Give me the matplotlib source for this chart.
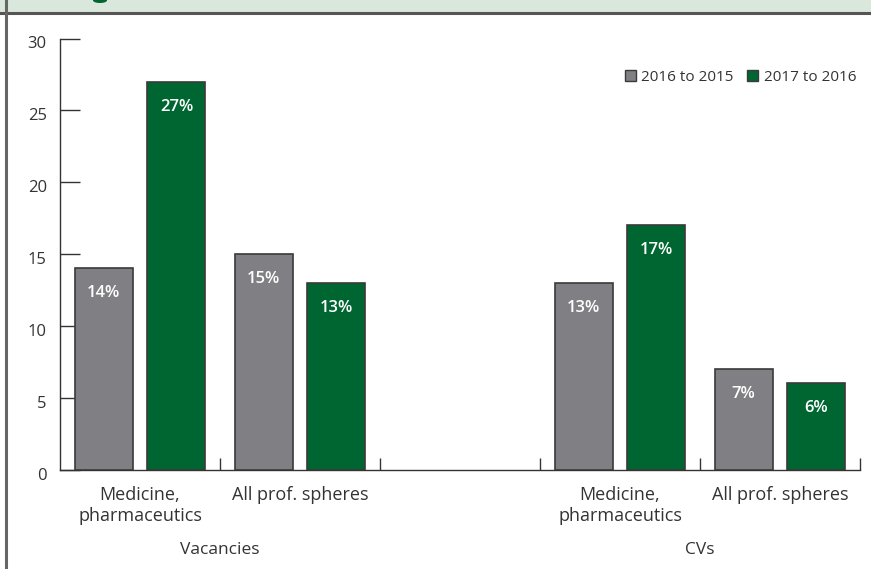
import matplotlib
matplotlib.use("Agg")
import matplotlib.pyplot as plt
import matplotlib.transforms as mtransforms
from matplotlib.patches import Rectangle, Ellipse
from matplotlib.lines import Line2D

plt.rcParams['font.family'] = ['Open Sans', 'DejaVu Sans']

# ---- data ----
groups = ["Vacancies", "CVs"]
categories = ["Medicine,\npharmaceutics", "All prof. spheres", "", "Medicine,\npharmaceutics", "All prof. spheres"]
series_names = ["2016 to 2015", "2017 to 2016"]
values_2016_2015 = [14, 15, None, 13, 7]
values_2017_2016 = [27, 13, None, 17, 6]
yticks = [0, 5, 10, 15, 20, 25, 30]

GRAY = "#808084"
GREEN = "#006631"
EDGE = "#3a3a3a"
TXT = "#333333"

W, H = 871, 569
fig = plt.figure(figsize=(W / 100, H / 100), dpi=100)

# header banner and frame
fig.patches.append(Rectangle((0, 1 - 13 / H), 1, 13 / H, transform=fig.transFigure,
                             facecolor="#d9e7dc", edgecolor="none", zorder=0))
fig.add_artist(Line2D([0, 1], [1 - 13 / H, 1 - 13 / H], transform=fig.transFigure,
                      color="#555555", lw=2.2))
fig.add_artist(Line2D([6 / W, 6 / W], [0, 1], transform=fig.transFigure,
                      color="#666666", lw=2.2))
fig.patches.append(Ellipse((100 / W, 1 - 0.5 / H), 14 / W, 5 / H, transform=fig.transFigure,
                           facecolor="#006631", edgecolor="none"))

AX_TOP, AX_BOT = 38.5, 469.5
ax = fig.add_axes([60 / W, (H - AX_BOT) / H, 800 / W, (AX_BOT - AX_TOP) / H])

x = list(range(len(categories)))
bw = 0.3625
off = 0.228
for i in x:
    for val, sgn, col in ((values_2016_2015[i], -1, GRAY),
                          (values_2017_2016[i], 1, GREEN)):
        if val is None:
            continue
        ax.bar(i + sgn * off, val, width=bw, color=col, edgecolor=EDGE, linewidth=1.2, zorder=3)
        ax.annotate(f"{val}%", (i + sgn * off, val), xytext=(0, -18), textcoords="offset points",
                    ha="center", va="center", color="white", fontsize=12, fontweight="semibold",
                    zorder=4)

ax.set_xlim(-0.5, 4.5)
ax.set_ylim(0, 30)
ax.set_yticks(yticks)
ax.set_yticklabels([str(t) for t in yticks])
ax.tick_params(axis="y", direction="in", length=14.4, width=1.0, color=TXT, pad=9.5,
               labelsize=12, labelcolor=TXT)
shift = mtransforms.ScaledTranslation(0, -4 / 100, fig.dpi_scale_trans)
for lab in ax.get_yticklabels():
    lab.set_transform(lab.get_transform() + shift)

ax.set_xticks([0, 1, 3, 4])
ax.set_xticklabels([categories[i] for i in (0, 1, 3, 4)])
ax.tick_params(axis="x", which="major", length=0, pad=12, labelsize=13, labelcolor=TXT)
ax.set_xticks([0.5, 1.5, 2.5, 3.5, 4.5], minor=True)
ax.tick_params(axis="x", which="minor", direction="in", length=8.6, width=1.0, color=TXT)

for s in ("top", "right"):
    ax.spines[s].set_visible(False)
for s in ("left", "bottom"):
    ax.spines[s].set_color(TXT)
    ax.spines[s].set_linewidth(1.0)

# group labels
trans = mtransforms.blended_transform_factory(ax.transData, fig.transFigure)
for gx, g in zip([0.5, 3.5], groups):
    ax.text(gx, (H - 550) / H, g, transform=trans, ha="center", va="center",
            fontsize=12.5, color=TXT)

handles = [Rectangle((0, 0), 1, 1, facecolor=GRAY, edgecolor=EDGE, linewidth=1.0),
           Rectangle((0, 0), 1, 1, facecolor=GREEN, edgecolor=EDGE, linewidth=1.0)]
ax.legend(handles, series_names, loc="center right",
          bbox_to_anchor=((856 - 60) / 800, (AX_BOT - 77.5) / (AX_BOT - AX_TOP)),
          frameon=False, handlelength=0.7, handleheight=0.7, handletextpad=0.35,
          columnspacing=0.9, ncol=2, fontsize=11, labelcolor=TXT, borderaxespad=0,
          borderpad=0)

fig.savefig("out.png", dpi=100)
